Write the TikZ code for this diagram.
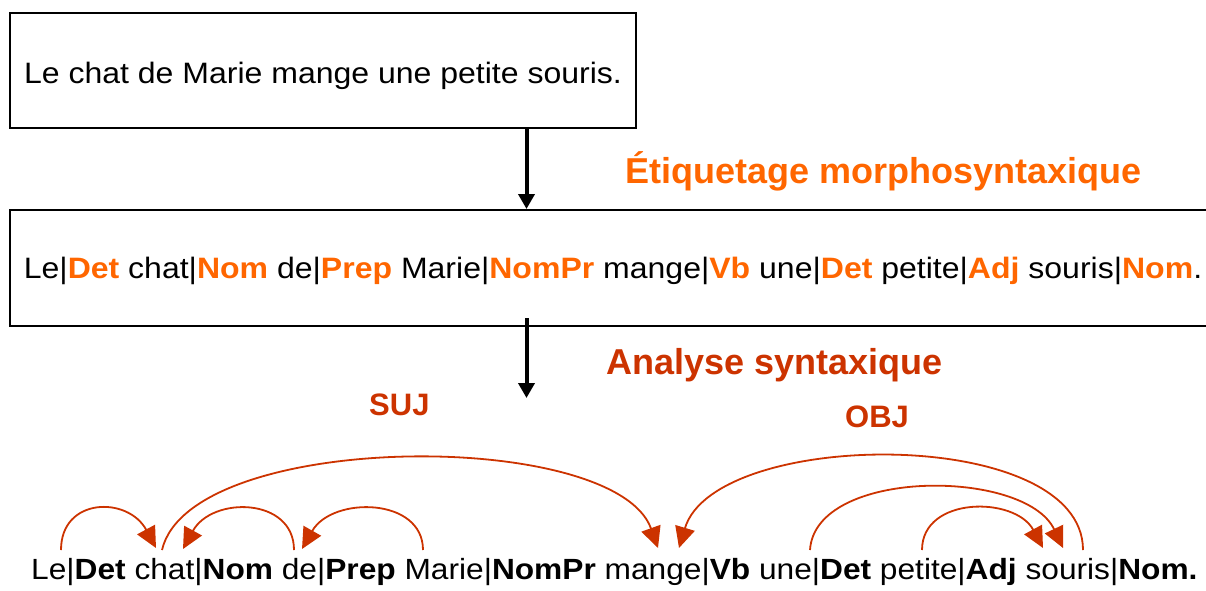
\documentclass[tikz,border=0pt]{standalone}
\usepackage{fontspec}
\setmainfont{Liberation Sans}
\newfontfamily\wordfont{Liberation Sans}[FakeStretch=1.085]
\usetikzlibrary{arrows.meta}
\definecolor{tagorange}{RGB}{255,102,0}
\definecolor{deprel}{RGB}{204,51,0}
\newcommand{\tg}[1]{\textcolor{tagorange}{\textbf{#1}}}
\newcommand{\bt}[1]{\textbf{#1}}

\begin{document}
\begin{tikzpicture}[x=1pt,y=-1pt,
  sentbox/.style={draw=black, line width=2pt, inner sep=0pt,
    font=\wordfont\fontsize{29.5}{34}\selectfont},
  words/.style={inner sep=0pt, font=\wordfont\fontsize{29.2}{34}\selectfont},
  steplabel/.style={inner sep=0pt, font=\fontsize{36}{41}\selectfont\bfseries},
  rellabel/.style={inner sep=0pt, text=deprel, font=\fontsize{31}{36}\selectfont\bfseries},
  flow/.style={line width=4pt, -{Triangle[length=15pt,width=16pt]}},
  dep/.style={draw=deprel, line width=1.8pt, -{Triangle[length=21pt,width=20pt]}}
]
\clip (0,0) rectangle (1206,590);

% raw sentence
\node[sentbox, minimum width=626pt, minimum height=115pt,
      text height=25pt, text depth=0pt] (raw) at (323,70.5)
  {Le chat de Marie mange une petite souris.};

% tagged sentence (box runs past the right edge)
\node[sentbox, minimum width=1206pt, minimum height=116pt,
      text height=20pt, text depth=0pt] (tagged) at (613,268)
  {Le|\tg{Det} chat|\tg{Nom} de|\tg{Prep} Marie|\tg{NomPr} mange|\tg{Vb} une|\tg{Det} petite|\tg{Adj} souris|\tg{Nom}.};

% processing steps
\coordinate (axis) at (526.5,0);
\coordinate (parse) at (526.5,398);
\draw[flow] (raw.south -| axis) -- (tagged.north -| axis);
\draw[flow] ([yshift=9pt]tagged.south -| axis) -- (parse);

\node[steplabel, text=tagorange, anchor=base west] (step1) at (625,183)
  {Étiquetage morphosyntaxique};
\node[steplabel, text=deprel, anchor=base west] (step2) at (606,374)
  {Analyse syntaxique};

% parsed sentence
\node[words, anchor=base west] (parsed) at (31,579)
  {Le|\bt{Det} chat|\bt{Nom} de|\bt{Prep} Marie|\bt{NomPr} mange|\bt{Vb} une|\bt{Det} petite|\bt{Adj} souris|\bt{Nom.}};

% attachment points above the words
\coordinate (le)      at (61,550);
\coordinate (chatA)   at (156,548);
\coordinate (chatB)   at (183,549);
\coordinate (chat)    at (162,550);
\coordinate (de)      at (294,550);
\coordinate (deIn)    at (302,549);
\coordinate (marie)   at (423,550);
\coordinate (mangeA)  at (658,548);
\coordinate (mangeB)  at (679,548);
\coordinate (une)     at (810,550);
\coordinate (petite)  at (922,550);
\coordinate (sourisA) at (1043,548);
\coordinate (sourisB) at (1063,548);
\coordinate (souris)  at (1083,550);

% dependency arcs
\draw[dep] (le) .. controls (61,497) and (128,496) .. (chatA);
\draw[dep] (de) .. controls (294,497) and (212,496) .. (chatB);
\draw[dep] (marie) .. controls (423,497) and (332,496) .. (deIn);
\draw[dep] (chat) .. controls (190,430) and (615,428) .. (mangeA);
\draw[dep] (souris) .. controls (1083,425) and (715,428) .. (mangeB);
\draw[dep] (une) .. controls (815,468) and (1025,468) .. (sourisB);
\draw[dep] (petite) .. controls (922,496) and (1015,496) .. (sourisA);

\node[rellabel, anchor=base west] (suj) at (369,415) {SUJ};
\node[rellabel, anchor=base west] (obj) at (845,427) {OBJ};
\end{tikzpicture}
\end{document}
